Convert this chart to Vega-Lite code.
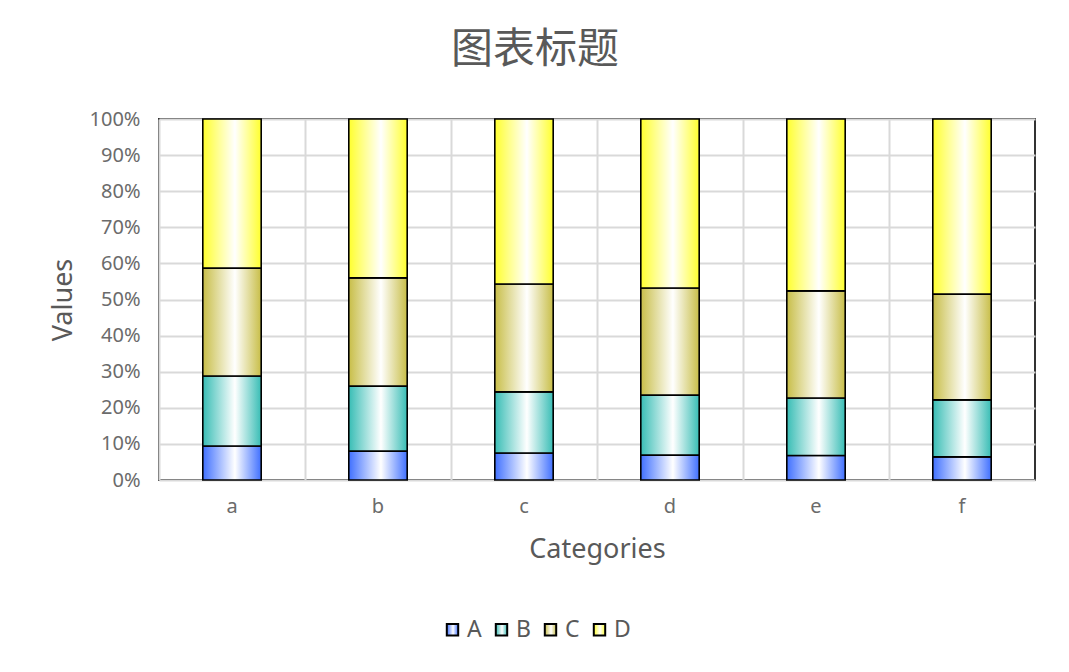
{
  "$schema": "https://vega.github.io/schema/vega-lite/v6.json",
  "width": 876,
  "height": 361,
  "autosize": "none",
  "padding": {"left": 159, "top": 119, "right": 34, "bottom": 192},
  "background": "white",
  "title": {
    "text": "图表标题",
    "fontSize": 42,
    "fontWeight": "normal",
    "color": "#595959",
    "font": "Noto Sans CJK SC",
    "offset": 37,
    "dx": -62
  },
  "data": {
    "values": [
      {"cat": "a", "series": "A", "value": 9.4},
      {"cat": "a", "series": "B", "value": 19.4},
      {"cat": "a", "series": "C", "value": 29.9},
      {"cat": "a", "series": "D", "value": 41.3},
      {"cat": "b", "series": "A", "value": 8.0},
      {"cat": "b", "series": "B", "value": 18.0},
      {"cat": "b", "series": "C", "value": 30.0},
      {"cat": "b", "series": "D", "value": 44.0},
      {"cat": "c", "series": "A", "value": 7.5},
      {"cat": "c", "series": "B", "value": 16.9},
      {"cat": "c", "series": "C", "value": 29.9},
      {"cat": "c", "series": "D", "value": 45.7},
      {"cat": "d", "series": "A", "value": 6.9},
      {"cat": "d", "series": "B", "value": 16.6},
      {"cat": "d", "series": "C", "value": 29.7},
      {"cat": "d", "series": "D", "value": 46.8},
      {"cat": "e", "series": "A", "value": 6.8},
      {"cat": "e", "series": "B", "value": 15.9},
      {"cat": "e", "series": "C", "value": 29.7},
      {"cat": "e", "series": "D", "value": 47.6},
      {"cat": "f", "series": "A", "value": 6.4},
      {"cat": "f", "series": "B", "value": 15.8},
      {"cat": "f", "series": "C", "value": 29.3},
      {"cat": "f", "series": "D", "value": 48.5}
    ]
  },
  "mark": {
    "type": "bar",
    "strokeWidth": 1.6,
    "width": {"band": 0.4},
    "fill": {"expr": "{gradient: 'linear', x1: 0, y1: 0, x2: 1, y2: 0, stops: [{offset: 0, color: ['#4070ff', '#38bdb5', '#c8be48', '#ffff2e'][indexof(['A', 'B', 'C', 'D'], datum.series || datum.value)]}, {offset: 0.55, color: '#ffffff'}, {offset: 1, color: ['#4070ff', '#38bdb5', '#c8be48', '#ffff2e'][indexof(['A', 'B', 'C', 'D'], datum.series || datum.value)]}]}"},
    "fillOpacity": 1
  },
  "encoding": {
    "x": {
      "field": "cat",
      "type": "nominal",
      "title": "Categories",
      "scale": {"paddingInner": 0, "paddingOuter": 0},
      "axis": {
        "labelAngle": 0,
        "bandPosition": 0,
        "grid": true,
        "ticks": false,
        "domain": false,
        "labelPadding": 16,
        "titlePadding": 20
      }
    },
    "y": {
      "field": "value",
      "type": "quantitative",
      "stack": "normalize",
      "title": "Values",
      "scale": {"domain": [0, 1]},
      "axis": {
        "format": "%",
        "values": [0, 0.1, 0.2, 0.3, 0.4, 0.5, 0.6, 0.7, 0.8, 0.9, 1],
        "ticks": false,
        "domain": false,
        "labelPadding": 19,
        "titlePadding": 12
      }
    },
    "order": {"field": "series", "sort": "ascending"},
    "stroke": {
      "field": "series",
      "type": "nominal",
      "title": null,
      "scale": {
        "domain": ["A", "B", "C", "D"],
        "range": ["#000000", "#000000", "#000000", "#000000"]
      },
      "legend": {
        "orient": "none",
        "direction": "horizontal",
        "legendX": 282,
        "legendY": 499,
        "symbolType": "square",
        "symbolSize": 130,
        "symbolStrokeWidth": 2,
        "symbolOpacity": 1,
        "columnPadding": 8,
        "labelOffset": 3
      }
    }
  },
  "config": {
    "view": {"stroke": "#333333", "strokeWidth": 2},
    "axis": {
      "labelFont": "Noto Sans",
      "labelFontSize": 20,
      "labelColor": "#6b6b6b",
      "titleFont": "Noto Sans",
      "titleFontSize": 27,
      "titleFontWeight": "normal",
      "titleColor": "#595959",
      "gridColor": "#d9d9d9",
      "gridWidth": 2
    },
    "legend": {
      "labelFont": "Noto Sans",
      "labelFontSize": 23,
      "labelColor": "#595959"
    }
  }
}
